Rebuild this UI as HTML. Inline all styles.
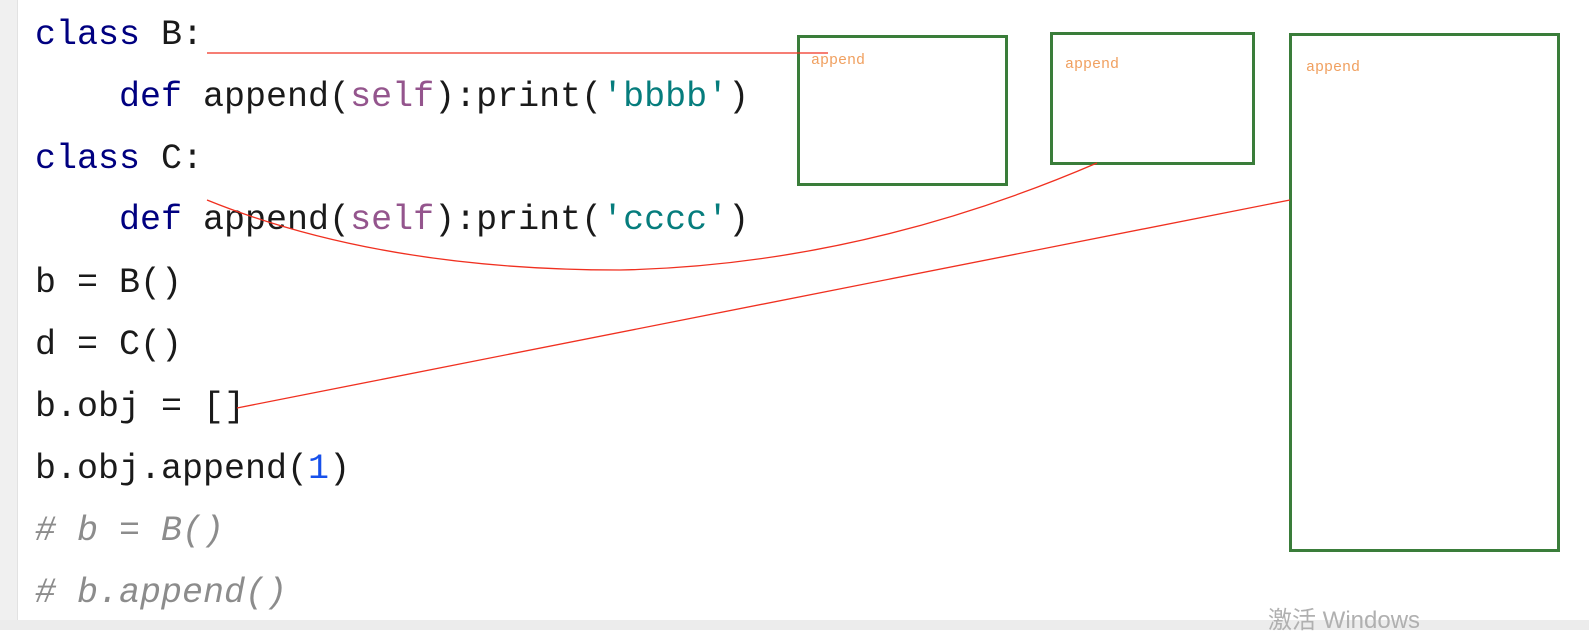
<!DOCTYPE html>
<html><head><meta charset="utf-8"><style>
body{margin:0;width:1589px;height:630px;background:#fff;position:relative;overflow:hidden;font-family:"Liberation Mono",monospace;}
.l{position:absolute;left:35px;font-size:35px;line-height:40px;color:#1a1a1a;white-space:pre;}
.k{color:#000080}.s{color:#94558d}.t{color:#067d7d}.n{color:#1750eb}.c{color:#8c8c8c;font-style:italic}
.box{position:absolute;border:3px solid #3a7d3a;box-sizing:border-box}
.lab{position:absolute;font-family:"Liberation Mono",monospace;font-size:15px;color:#f0a060}
</style></head><body>
<div style="position:absolute;left:0;top:0;width:17px;height:630px;background:#f0f0f0;border-right:1px solid #e2e2e2"></div>
<div style="position:absolute;left:0;top:620px;width:1589px;height:10px;background:#ececec"></div>
<div class="l" style="top:15px"><span class="k">class</span> B:</div>
<div class="l" style="top:77px">    <span class="k">def</span> append(<span class="s">self</span>):print(<span class="t">'bbbb'</span>)</div>
<div class="l" style="top:139px"><span class="k">class</span> C:</div>
<div class="l" style="top:200px">    <span class="k">def</span> append(<span class="s">self</span>):print(<span class="t">'cccc'</span>)</div>
<div class="l" style="top:263px">b = B()</div>
<div class="l" style="top:325px">d = C()</div>
<div class="l" style="top:387px">b.obj = []</div>
<div class="l" style="top:449px">b.obj.append(<span class="n">1</span>)</div>
<div class="l c" style="top:511px"># b = B()</div>
<div class="l c" style="top:573px"># b.append()</div>
<div class="box" style="left:797px;top:35px;width:211px;height:151px"></div>
<div class="box" style="left:1050px;top:32px;width:205px;height:133px"></div>
<div class="box" style="left:1289px;top:33px;width:271px;height:519px"></div>
<div class="lab" style="left:811px;top:52px">append</div>
<div class="lab" style="left:1065px;top:56px">append</div>
<div class="lab" style="left:1306px;top:59px">append</div>
<div style="position:absolute;left:1268px;top:600px;font-family:'Liberation Sans','Noto Sans CJK SC',sans-serif;font-size:24px;color:#b0b0b0">激活 Windows</div>
<svg width="1589" height="630" style="position:absolute;left:0;top:0">
<line x1="207" y1="53" x2="828" y2="53" stroke="#f03020" stroke-width="1.3"/>
<path d="M207 200 Q 380 270 620 270 Q 860 265 1097 163" fill="none" stroke="#f03020" stroke-width="1.3"/>
<line x1="237" y1="408" x2="1290" y2="200" stroke="#f03020" stroke-width="1.3"/>
</svg>
</body></html>
